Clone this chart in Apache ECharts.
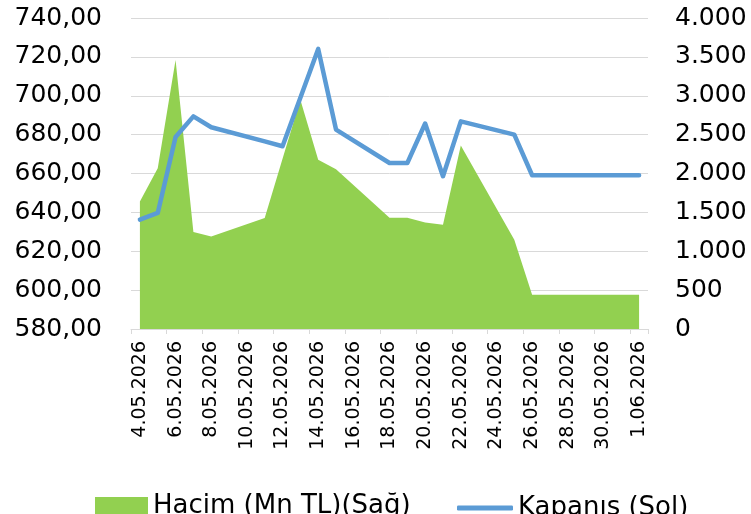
<!DOCTYPE html>
<html><head><meta charset="utf-8">
<script src="https://cdn.jsdelivr.net/npm/echarts@6/dist/echarts.min.js"></script>
<style>html,body{margin:0;padding:0;background:#fff}#c{width:751px;height:514px}</style>
</head><body><div id="c"></div>
<script>
const categories = ['4.05.2026','5.05.2026','6.05.2026','7.05.2026','8.05.2026','9.05.2026','10.05.2026',
  '11.05.2026','12.05.2026','13.05.2026','14.05.2026','15.05.2026','16.05.2026','17.05.2026',
  '18.05.2026','19.05.2026','20.05.2026','21.05.2026','22.05.2026','23.05.2026','24.05.2026',
  '25.05.2026','26.05.2026','27.05.2026','28.05.2026','29.05.2026','30.05.2026','31.05.2026','1.06.2026'];
// Kapanış (Sol) - left axis
const closing = [636.3, 639.7, 678.8, 689.4, 683.8, null, null,
  676.5, 674.0, 699.0, 724.1, 682.6, null, null,
  665.4, 665.4, 685.7, 658.6, 686.8, null, null,
  680.0, 659.1, 659.1, 659.1, 659.1, 659.1, 659.1, 659.1];
// Hacim (Mn TL)(Sağ) - right axis
const volume = [1640, 2069, 3461, 1247, 1190, null, null,
  1427, 2190, 2950, 2176, 2056, null, null,
  1430, 1430, 1370, 1341, 2360, null, null,
  1148, 441, 441, 441, 441, 441, 441, 441];
const seriesNames = ['Hacim (Mn TL)(Sağ)', 'Kapanış (Sol)'];
const leftAxisRange = [580, 740, 20];
const rightAxisRange = [0, 4000, 500];

const chart = echarts.init(document.getElementById('c'), null, {renderer: 'canvas'});
const font = 'DejaVu Sans';
const gridColor = '#D9D9D9';
chart.setOption({
  animation: false,
  backgroundColor: '#fff',
  textStyle: {fontFamily: font, color: '#000'},
  grid: {left: 131, right: 103, top: 18, bottom: 185},
  legend: [
    {data: [{name: seriesNames[0], icon: 'rect'}], left: 90, top: 488, itemWidth: 53, itemHeight: 18, itemGap: 6,
     textStyle: {fontFamily: font, fontSize: 26, color: '#000'}},
    {data: [{name: seriesNames[1], icon: 'roundRect'}], left: 452, top: 490, itemWidth: 56, itemHeight: 5, itemGap: 6,
     textStyle: {fontFamily: font, fontSize: 26, color: '#000'}}
  ],
  xAxis: {
    type: 'category', data: categories, boundaryGap: true,
    axisLine: {show: true, lineStyle: {color: gridColor, width: 1}},
    axisTick: {show: true, interval: 1, length: 5, lineStyle: {color: gridColor}},
    axisLabel: {interval: 1, rotate: 90, fontSize: 19, color: '#000', margin: 12, fontFamily: font},
    splitLine: {show: false}
  },
  yAxis: [
    {type: 'value', min: leftAxisRange[0], max: leftAxisRange[1], interval: leftAxisRange[2], position: 'left',
     axisLine: {show: false}, axisTick: {show: false},
     axisLabel: {fontSize: 25, color: '#000', margin: 29, fontFamily: font,
       formatter: v => v.toFixed(2).replace('.', ',')},
     splitLine: {show: true, lineStyle: {color: gridColor, width: 1}}},
    {type: 'value', min: rightAxisRange[0], max: rightAxisRange[1], interval: rightAxisRange[2], position: 'right',
     axisLine: {show: false}, axisTick: {show: false},
     axisLabel: {fontSize: 25, color: '#000', margin: 27, fontFamily: font,
       formatter: v => v.toString().replace(/\B(?=(\d{3})+(?!\d))/g, '.')},
     splitLine: {show: false}}
  ],
  series: [
    {name: seriesNames[0], type: 'line', yAxisIndex: 1, data: volume, connectNulls: true,
     showSymbol: false, symbol: 'none', lineStyle: {width: 0, color: '#92D050'},
     itemStyle: {color: '#92D050'}, areaStyle: {color: '#92D050', opacity: 1}, z: 1},
    {name: seriesNames[1], type: 'line', yAxisIndex: 0, data: closing, connectNulls: true,
     showSymbol: false, symbol: 'none', lineStyle: {width: 4.5, color: '#5B9BD5', join: 'round', cap: 'round'},
     itemStyle: {color: '#5B9BD5'}, z: 3}
  ]
});
</script></body></html>
